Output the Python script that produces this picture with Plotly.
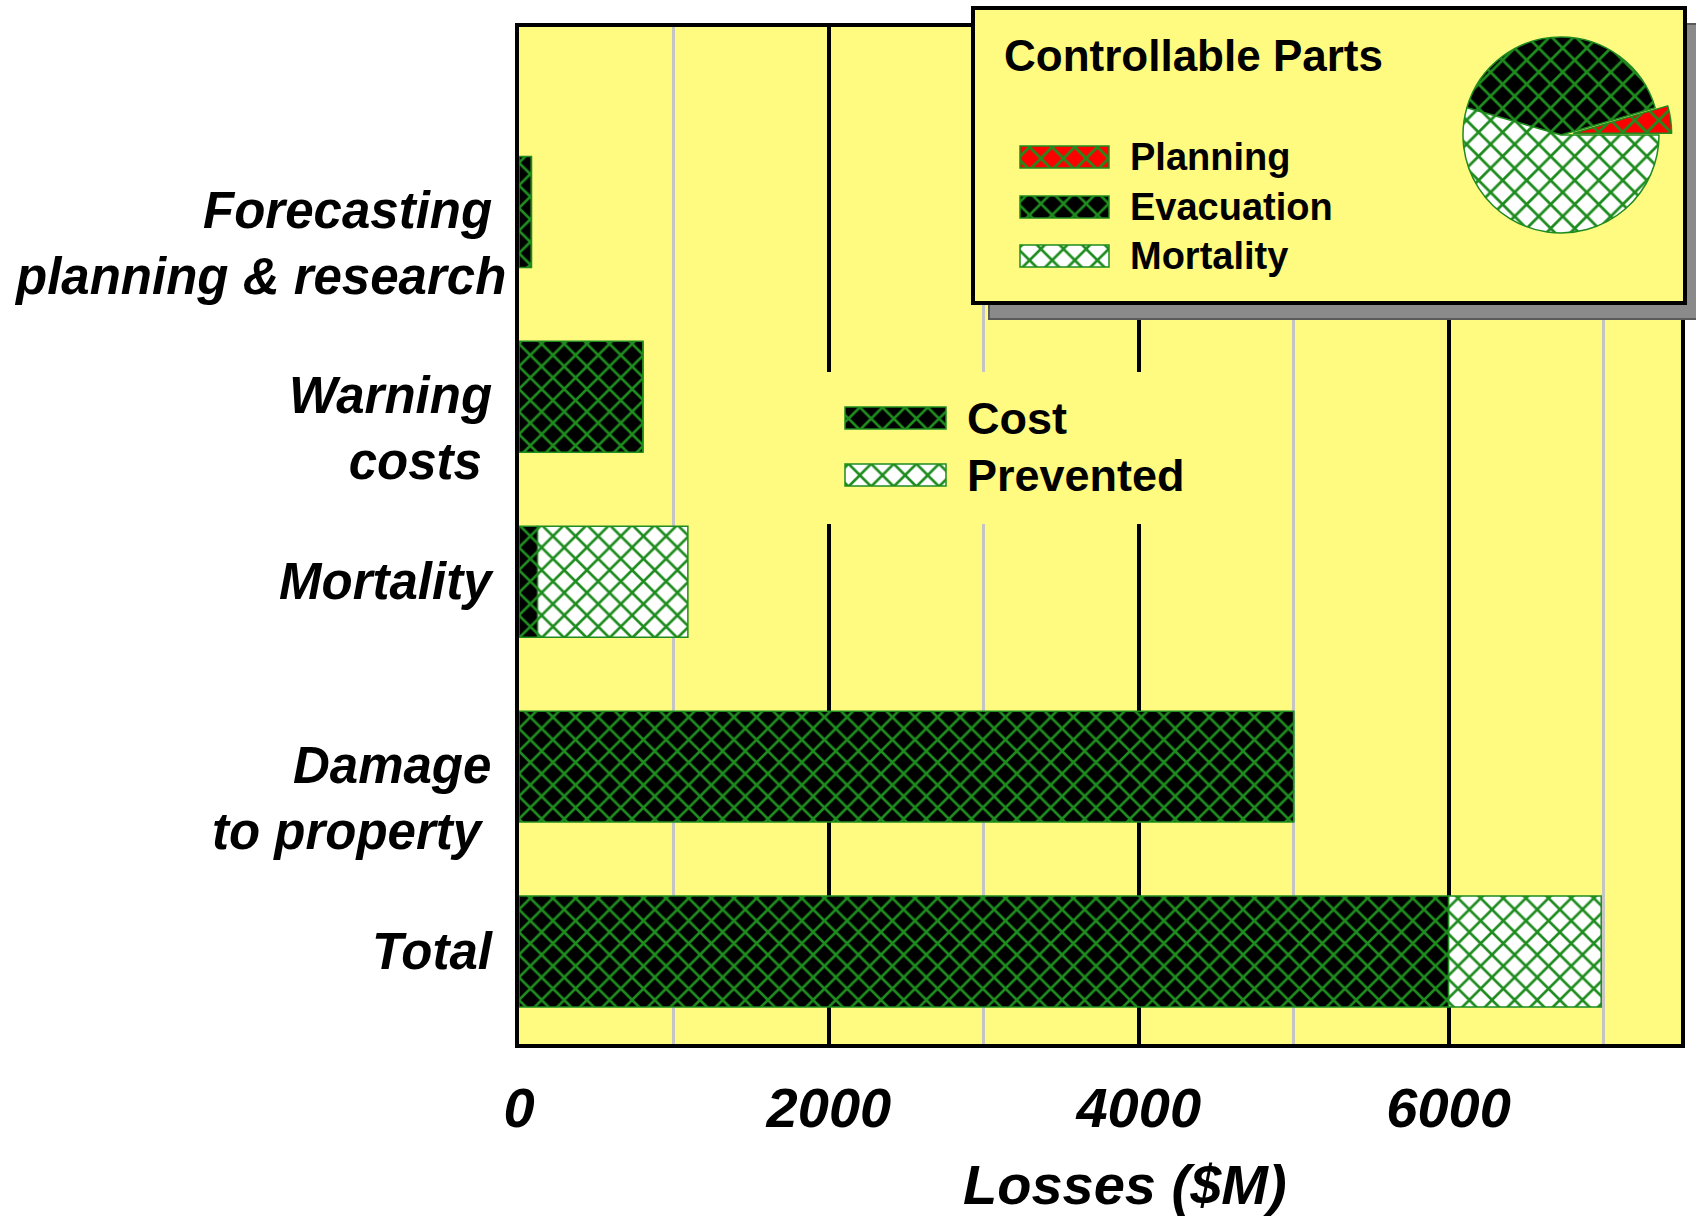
import plotly.graph_objects as go

# ---- data -------------------------------------------------------------
categories = [
    "Forecasting planning & research",
    "Warning costs",
    "Mortality",
    "Damage to property",
    "Total",
]
category_labels = [
    "Forecasting\u00a0<br>planning & research",
    "Warning\u00a0<br>costs\u00a0\u2009",
    "Mortality\u00a0",
    "Damage\u00a0<br>to property\u00a0\u2009",
    "Total\u00a0",
]
cost = [80, 800, 120, 5000, 6000]
prevented = [0, 0, 970, 0, 985]
series_names = ["Cost", "Prevented"]

parts = ["Planning", "Evacuation", "Mortality"]
part_shares = [4.5, 41, 54.5]

x_title = "Losses ($M)"
inset_title = "Controllable Parts"

# ---- styling ------------------------------------------------------------
W, H = 1696, 1216
YELLOW = "#FFFA80"
GREEN = "#1E8C1E"
FONT = "Liberation Sans, Arial, sans-serif"

# plot area in pixels
L, R, T, B = 519, 1681, 27, 1044


def px(x):
    return x / W


def py(y):
    return 1 - y / H


def hatch(bg, size=16):
    return dict(shape="x", fgcolor=GREEN, bgcolor=bg, size=size, solidity=0.3, fillmode="replace")


fig = go.Figure()

# ---- stacked horizontal bars ---------------------------------------------
fig.add_trace(go.Bar(
    y=categories, x=cost, orientation="h", name=series_names[0], width=0.6,
    marker=dict(color="black", line=dict(color=GREEN, width=1.5), pattern=hatch("black")),
    hoverinfo="x+y",
))
fig.add_trace(go.Bar(
    y=categories, x=prevented, base=cost, orientation="h", name=series_names[1], width=0.6,
    marker=dict(color="white", line=dict(color=GREEN, width=1.5), pattern=hatch("white")),
    hoverinfo="x+y",
))


# ---- pixel-space overlay for the legend boxes -----------------------------
def block(x0, y0, x1, y1, fill, line_color="rgba(0,0,0,0)", line_width=0, pattern=None):
    marker = dict(color=fill, line=dict(color=line_color, width=line_width))
    if pattern is not None:
        marker["pattern"] = pattern
    fig.add_trace(go.Bar(
        x=[x1 - x0], base=[x0], y=[(y0 + y1) / 2], width=y1 - y0, orientation="h",
        marker=marker, xaxis="x2", yaxis="y2", hoverinfo="skip", showlegend=False,
    ))


def swatch(x0, x1, yc, h, bg):
    block(x0, yc - h / 2, x1, yc + h / 2, bg, GREEN, 1.5, hatch(bg))


# series legend (Cost / Prevented)
block(815, 372, 1230, 524, YELLOW)
series_bg = ["black", "white"]
series_y = [418, 475]
for bg, yc in zip(series_bg, series_y):
    swatch(845, 946, yc, 22, bg)

# inset box with drop shadow
block(989, 24, 1701, 319, "#8A8A8A", "#5A5A5A", 2)
block(973, 8, 1685, 303, YELLOW, "black", 4)
part_bg = ["red", "black", "white"]
part_y = [157, 207, 256]
for bg, yc in zip(part_bg, part_y):
    swatch(1020, 1109, yc, 22, bg)

# ---- inset pie -------------------------------------------------------------
# counterclockwise pies end their first slice at `rotation`; start Planning at 3 o'clock
first_angle = 360 * part_shares[0] / sum(part_shares)
pull = 0.13
cx, cy, radius = 1561, 135, 98
half = radius * (1 + pull)
fig.add_trace(go.Pie(
    labels=parts, values=part_shares, sort=False, direction="counterclockwise",
    rotation=90 - first_angle, pull=[pull, 0, 0], textinfo="none", hoverinfo="label+percent",
    marker=dict(colors=part_bg, line=dict(color=GREEN, width=1.5),
                pattern=dict(shape="x", fgcolor=GREEN, bgcolor=part_bg, size=17,
                             solidity=0.3, fillmode="replace")),
    domain=dict(x=[px(cx - half), px(cx + half)], y=[py(cy + half), py(cy - half)]),
    showlegend=False,
))

# ---- annotations -----------------------------------------------------------
ann = []
label_font = dict(family=FONT, size=51, color="black", weight="bold", style="italic")
for cat, lab in zip(categories, category_labels):
    ann.append(dict(
        xref="paper", x=px(508), xanchor="right", yref="y", y=cat, yanchor="middle",
        text=lab, align="right", showarrow=False, font=label_font,
        yshift=-32 if "<br>" in lab else 0,
    ))

ann.append(dict(
    xref="paper", x=px(1125), yref="paper", y=py(1184), xanchor="center", yanchor="middle",
    text=x_title, showarrow=False,
    font=dict(family=FONT, size=56, color="black", weight="bold", style="italic"),
))

for name, yc in zip(series_names, series_y):
    ann.append(dict(
        xref="paper", x=px(965), yref="paper", y=py(yc), xanchor="left", yanchor="middle",
        text=name, showarrow=False,
        font=dict(family=FONT, size=45, color="black", weight="bold"),
    ))

ann.append(dict(
    xref="paper", x=px(1002), yref="paper", y=py(56), xanchor="left", yanchor="middle",
    text=inset_title, showarrow=False,
    font=dict(family=FONT, size=44, color="black", weight="bold"),
))
for name, yc in zip(parts, part_y):
    ann.append(dict(
        xref="paper", x=px(1128), yref="paper", y=py(yc), xanchor="left", yanchor="middle",
        text=name, showarrow=False,
        font=dict(family=FONT, size=38, color="black", weight="bold"),
    ))

# ---- layout ----------------------------------------------------------------
fig.update_layout(
    width=W, height=H,
    margin=dict(l=0, r=0, t=0, b=0, autoexpand=False),
    paper_bgcolor="white",
    plot_bgcolor="rgba(0,0,0,0)",
    barmode="overlay",
    showlegend=False,
    annotations=ann,
    shapes=[dict(
        type="rect", xref="paper", yref="paper",
        x0=px(L), x1=px(R), y0=py(B), y1=py(T),
        fillcolor=YELLOW, line=dict(width=0), layer="below",
    )],
    xaxis=dict(
        domain=[px(L), px(R)], range=[0, 7500], automargin=False,
        tickmode="linear", tick0=0, dtick=2000, tickformat="d",
        showgrid=True, gridcolor="black", gridwidth=4,
        minor=dict(dtick=1000, tick0=0, showgrid=True, gridcolor="#C4C4C4", gridwidth=3),
        zeroline=False,
        showline=True, linecolor="black", linewidth=4, mirror=True,
        ticks="", ticklabelstandoff=12,
        tickfont=dict(family=FONT, size=56, color="black", weight="bold", style="italic"),
        anchor="y",
    ),
    yaxis=dict(
        domain=[py(B), py(T)], type="category", automargin=False,
        categoryorder="array", categoryarray=categories[::-1],
        range=[-0.5, 5.0],
        showgrid=False, showticklabels=False, ticks="",
        showline=True, linecolor="black", linewidth=4, mirror=True,
        zeroline=False, anchor="x",
    ),
    xaxis2=dict(domain=[0, 1], range=[0, W], visible=False, anchor="y2",
                fixedrange=True, automargin=False),
    yaxis2=dict(domain=[0, 1], range=[H, 0], visible=False, anchor="x2",
                fixedrange=True, automargin=False),
)

fig.write_html("out.html")
